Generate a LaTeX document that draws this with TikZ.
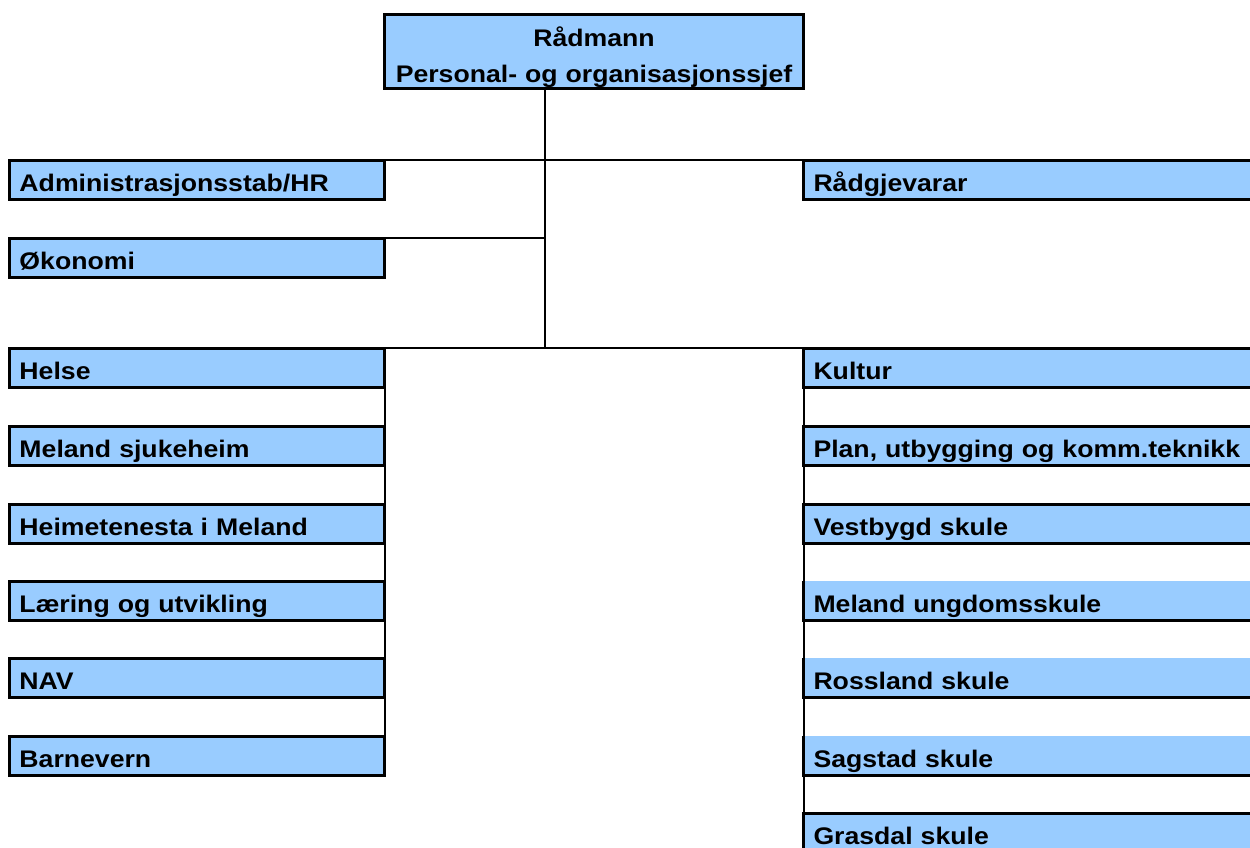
\documentclass[tikz,border=0pt]{standalone}
\usepackage{fontspec}
\setmainfont{Liberation Sans}[FakeStretch=1.11]
\definecolor{cellblue}{RGB}{153,204,255}
\begin{document}
\begin{tikzpicture}[x=1pt,y=-1pt,line join=miter]
	\tikzset{every node/.style={font=\fontsize{24}{36}\selectfont\bfseries,outer sep=0pt,inner ysep=0pt}}
	\tikzset{unit/.style={anchor=north west,fill=cellblue,draw,line width=3pt,minimum height=39,text height=31,text depth=8,inner xsep=10,align=left}}
	\tikzset{leftunit/.style={unit,text width=355}}
	\tikzset{rightunit/.style={unit,text width=440}}
	\tikzset{conn/.style={line width=2pt}}
	\useasboundingbox[fill=white] (0,0) rectangle (1250,847);
	% top
	\node[anchor=north west,fill=cellblue,draw,line width=3pt,minimum width=419,minimum height=74,text width=419,align=center,text height=32,text depth=42,inner xsep=0] (boss) at (384.5,14) {Rådmann\\Personal- og organisasjonssjef};
	\coordinate (split) at (545,348);
	% left column
	\node[leftunit] (admin) at (9.5,160) {Administrasjonsstab/HR};
	\node[leftunit] (okon) at (9.5,238) {Økonomi};
	\node[leftunit] (helse) at (9.5,348) {Helse};
	\node[leftunit] (sjuke) at (9.5,426) {Meland sjukeheim};
	\node[leftunit] (heime) at (9.5,504) {Heimetenesta i Meland};
	\node[leftunit] (laer) at (9.5,581) {Læring og utvikling};
	\node[leftunit] (nav) at (9.5,658) {NAV};
	\node[leftunit] (barne) at (9.5,736) {Barnevern};
	% right column
	\node[rightunit] (radg) at (803.5,160) {Rådgjevarar};
	\node[rightunit] (kultur) at (803.5,348) {Kultur};
	\node[rightunit] (plan) at (803.5,426) {Plan, utbygging og komm.teknikk};
	\node[rightunit] (vest) at (803.5,504) {Vestbygd skule};
	\node[rightunit,draw=none] (ungdom) at (803.5,581) {Meland ungdomsskule};
	\node[rightunit,draw=none] (ross) at (803.5,658) {Rossland skule};
	\node[rightunit,draw=none] (sag) at (803.5,736) {Sagstad skule};
	\node[rightunit] (gras) at (803.5,813) {Grasdal skule};
	\foreach \n in {ungdom,ross,sag}
	\draw[line width=3pt] (\n.north west)--(\n.south west)--(\n.south east);
	% lines
	\draw[conn] (boss.south -| split)--(split);
	\draw[conn] (admin.north east)--(radg.north west);
	\draw[conn] (okon.north east)--(okon.north east -| split);
	\draw[conn] (helse.north east)--(kultur.north west);
	\draw[conn] (helse.north east)--(barne.north east);
	\draw[conn] (kultur.north west)--(gras.north west);
\end{tikzpicture}
\end{document}
